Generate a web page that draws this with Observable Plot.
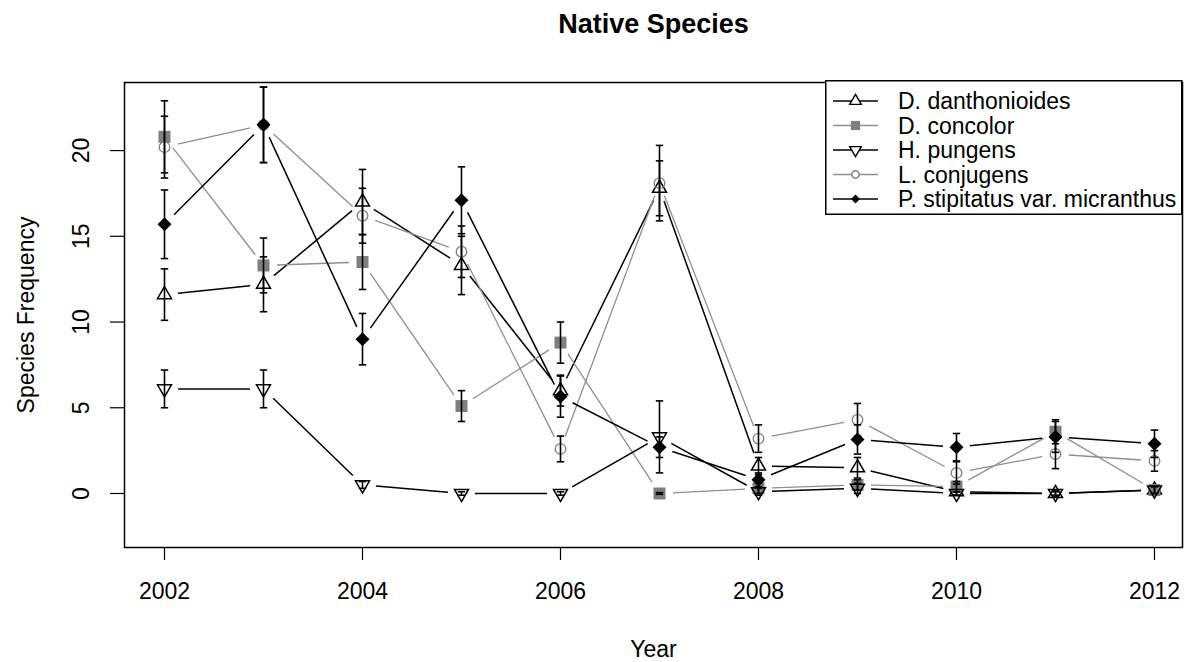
<!DOCTYPE html>
<html><head><meta charset="utf-8">
<script src="https://cdn.jsdelivr.net/npm/d3@7"></script>
<script src="https://cdn.jsdelivr.net/npm/@observablehq/plot@0.6"></script>
<style>
body{margin:0;background:#fff;}
#wrap{position:relative;width:1185px;height:662px;font-family:"Liberation Sans",Arial,sans-serif;}
</style></head>
<body><div id="wrap"></div>
<script>
const years = [2002,2003,2004,2005,2006,2007,2008,2009,2010,2011,2012];
const series = ["D. danthonioides","D. concolor","H. pungens","L. conjugens","P. stipitatus var. micranthus"];
const ddMean = [11.6,12.2,17.0,13.3,6.0,17.8,1.6,1.5,0.1,0.0,0.2];
const ddSE   = [1.5,1.6,1.9,1.7,0.9,1.6,0.5,0.6,0.2,0.2,0.2];
const dcMean = [20.8,13.3,13.5,5.1,8.8,0.0,0.3,0.5,0.4,3.6,0.2];
const dcSE   = [2.1,1.6,1.6,0.9,1.2,0.05,0.3,0.3,0.3,0.7,0.2];
const hpMean = [6.1,6.1,0.5,0.0,0.0,3.3,0.1,0.3,0.0,0.0,0.2];
const hpSE   = [1.1,1.1,0.2,0.1,0.1,2.1,0.2,0.3,0.1,0.1,0.2];
const lcMean = [20.2,21.5,16.2,14.1,2.6,18.1,3.2,4.3,1.2,2.3,1.9];
const lcSE   = [1.8,2.2,1.6,1.5,0.75,2.2,0.8,0.95,0.65,0.85,0.6];
const psMean = [15.7,21.5,9.0,17.1,5.65,2.7,0.8,3.15,2.7,3.3,2.9];
const psSE   = [2.0,2.2,1.5,1.95,1.2,0.6,0.4,0.85,0.8,0.9,0.8];
const xTicks = [2002,2004,2006,2008,2010,2012];
const yTicks = [0,5,10,15,20];

const means = [ddMean, dcMean, hpMean, lcMean, psMean];
const ses = [ddSE, dcSE, hpSE, lcSE, psSE];

// layout & styles
const W = 1185, H = 662, ML = 124, MR = 3, MT = 82, MB = 115;
const xDomain = [2001.596, 2012.283], yDomain = [-3.15, 23.97];
const GRAY_LINE = "#8f8f8f", GRAY_PT = "#7f7f7f";
const lineColor = ["#000", GRAY_LINE, "#000", GRAY_LINE, "#000"];

function rad(size){ return Math.sqrt(size / Math.PI); }
const triUp = {draw(c, s){ const R = rad(s); c.moveTo(0,-1.555*R); c.lineTo(1.347*R,0.778*R); c.lineTo(-1.347*R,0.778*R); c.closePath(); }};
const triDown = {draw(c, s){ const R = rad(s); c.moveTo(0,1.555*R); c.lineTo(1.347*R,-0.778*R); c.lineTo(-1.347*R,-0.778*R); c.closePath(); }};
const squareSym = {draw(c, s){ const R = rad(s); c.rect(-R,-R,2*R,2*R); }};
const circleSym = {draw(c, s){ const R = rad(s); c.moveTo(R,0); c.arc(0,0,R,0,2*Math.PI); }};
const diamondSym = {draw(c, s){ const R = rad(s); c.moveTo(0,-R); c.lineTo(R,0); c.lineTo(0,R); c.lineTo(-R,0); c.closePath(); }};
const capSym = {draw(c, s){ const R = rad(s); c.moveTo(-R,0); c.lineTo(R,0); }};

const symStyle = [
  {symbol: triUp, r: 5.2, fill: "none", stroke: "#000", strokeWidth: 1.5},
  {symbol: squareSym, r: 6, fill: GRAY_PT, stroke: "none"},
  {symbol: triDown, r: 5.2, fill: "none", stroke: "#000", strokeWidth: 1.5},
  {symbol: circleSym, r: 5.3, fill: "none", stroke: GRAY_PT, strokeWidth: 1.3},
  {symbol: diamondSym, r: 7, fill: "#000", stroke: "none"}
];

// scales used to leave R-style (type="b") gaps around each point
const sx = Plot.scale({x: {domain: xDomain, range: [ML, W - MR]}});
const sy = Plot.scale({y: {domain: yDomain, range: [H - MB, MT]}});
const GAP = 13.5;

const rows = [];
series.forEach((s, i) => years.forEach((yr, j) => rows.push({series: s, idx: i, year: yr, mean: means[i][j], se: ses[i][j]})));
const segs = [];
series.forEach((s, i) => {
  for (let j = 0; j < years.length - 1; j++) {
    const px1 = sx.apply(years[j]), py1 = sy.apply(means[i][j]);
    const px2 = sx.apply(years[j+1]), py2 = sy.apply(means[i][j+1]);
    const L = Math.hypot(px2 - px1, py2 - py1);
    if (L <= 2 * GAP) continue;
    const ux = (px2 - px1) / L, uy = (py2 - py1) / L;
    segs.push({series: s, idx: i,
      x1: sx.invert(px1 + ux * GAP), y1: sy.invert(py1 + uy * GAP),
      x2: sx.invert(px2 - ux * GAP), y2: sy.invert(py2 - uy * GAP)});
  }
});
const errRows = rows.filter(d => d.se > 0);

const marks = [];
series.forEach((s, i) => {
  marks.push(Plot.link(segs.filter(d => d.idx === i), {x1: "x1", y1: "y1", x2: "x2", y2: "y2", stroke: lineColor[i], strokeWidth: i % 2 ? 1.3 : 1.5}));
  marks.push(Plot.dot(rows.filter(d => d.idx === i), {x: "year", y: "mean", ...symStyle[i]}));
  const er = errRows.filter(d => d.idx === i);
  marks.push(Plot.ruleX(er, {x: "year", y1: d => d.mean - d.se, y2: d => d.mean + d.se, stroke: "#000", strokeWidth: 1.6}));
  marks.push(Plot.dot(er, {x: "year", y: d => d.mean + d.se, symbol: capSym, r: 3.7, stroke: "#000", fill: "none", strokeWidth: 1.6}));
  marks.push(Plot.dot(er, {x: "year", y: d => d.mean - d.se, symbol: capSym, r: 3.7, stroke: "#000", fill: "none", strokeWidth: 1.6}));
});

const chart = Plot.plot({
  width: W, height: H,
  marginLeft: ML, marginRight: MR, marginTop: MT, marginBottom: MB,
  style: {fontFamily: "'Liberation Sans', Arial, sans-serif", fontSize: "23px", background: "#fff", color: "#000"},
  x: {domain: xDomain},
  y: {domain: yDomain},
  marks: [
    Plot.frame({stroke: "#000", strokeWidth: 1.5}),
    Plot.axisX({ticks: xTicks, tickSize: 13, tickFormat: () => "", label: null, strokeWidth: 1.2}),
    Plot.axisY({ticks: yTicks, tickSize: 14, tickFormat: () => "", label: null, strokeWidth: 1.2}),
    Plot.text(xTicks, {x: d => d, frameAnchor: "bottom", dy: 51, lineAnchor: "bottom", fontSize: 23, text: d => String(d)}),
    Plot.text(yTicks, {y: d => d, frameAnchor: "left", dx: -36, rotate: -90, textAnchor: "middle", lineAnchor: "bottom", fontSize: 23, text: d => String(d)}),
    Plot.text(["Species Frequency"], {frameAnchor: "left", dx: -91, rotate: -90, textAnchor: "middle", lineAnchor: "bottom", fontSize: 23}),
    Plot.text(["Year"], {frameAnchor: "bottom", dy: 109, lineAnchor: "bottom", fontSize: 23}),
    Plot.text(["Native Species"], {frameAnchor: "top", dy: -50, lineAnchor: "bottom", fontSize: 27, fontWeight: "bold"}),
    ...marks
  ]
});

const wrap = document.getElementById("wrap");
wrap.appendChild(chart);

// legend
const ns = "http://www.w3.org/2000/svg";
const lg = document.createElementNS(ns, "svg");
lg.setAttribute("width", 358); lg.setAttribute("height", 136);
lg.style.position = "absolute"; lg.style.left = "825px"; lg.style.top = "80px";
const box = document.createElementNS(ns, "rect");
box.setAttribute("x", 0.75); box.setAttribute("y", 0.75); box.setAttribute("width", 356); box.setAttribute("height", 133.5);
box.setAttribute("fill", "#fff"); box.setAttribute("stroke", "#000"); box.setAttribute("stroke-width", 1.5);
lg.appendChild(box);
const legSym = [
  {sym: triUp, r: 4.3}, {sym: squareSym, r: 4.6}, {sym: triDown, r: 4.3}, {sym: circleSym, r: 3.7}, {sym: diamondSym, r: 4.4}
];
series.forEach((s, i) => {
  const cy = 21 + i * 24.5;
  const ln = document.createElementNS(ns, "line");
  ln.setAttribute("x1", 8); ln.setAttribute("x2", 53); ln.setAttribute("y1", cy); ln.setAttribute("y2", cy);
  ln.setAttribute("stroke", lineColor[i]); ln.setAttribute("stroke-width", i % 2 ? 1.3 : 1.5);
  lg.appendChild(ln);
  const path = d3.path();
  const R = legSym[i].r;
  legSym[i].sym.draw(path, R * R * Math.PI);
  const pe = document.createElementNS(ns, "path");
  pe.setAttribute("d", path.toString());
  pe.setAttribute("transform", `translate(30.5,${cy})`);
  const st = symStyle[i];
  if (st.fill === "none") { pe.setAttribute("fill", "#fff"); pe.setAttribute("stroke", st.stroke); pe.setAttribute("stroke-width", 1.4); }
  else { pe.setAttribute("fill", st.fill); }
  lg.appendChild(pe);
  const tx = document.createElementNS(ns, "text");
  tx.setAttribute("x", 73); tx.setAttribute("y", cy + 8);
  tx.setAttribute("font-size", 23); tx.setAttribute("font-family", "'Liberation Sans', Arial, sans-serif");
  tx.textContent = s;
  lg.appendChild(tx);
});
wrap.appendChild(lg);
</script>
</body></html>
